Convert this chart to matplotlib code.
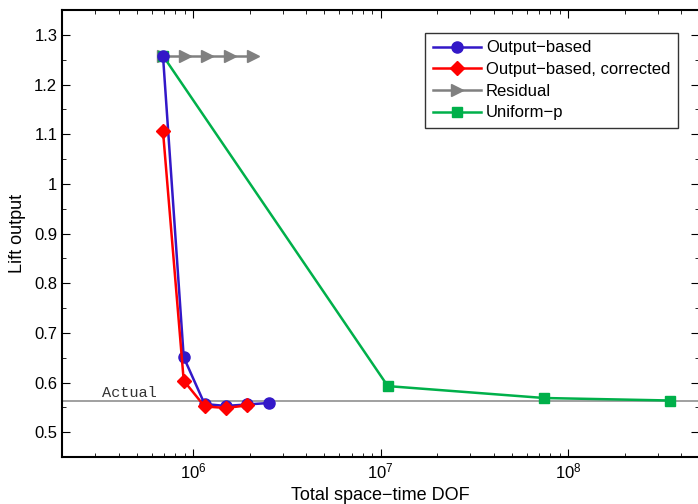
import matplotlib
matplotlib.use("Agg")
import matplotlib.pyplot as plt
from matplotlib.ticker import LogLocator, MultipleLocator, NullFormatter

plt.rcParams['font.family'] = ['Liberation Sans', 'DejaVu Sans']

# data
out_dof = [6.9e5, 8.9e5, 1.15e6, 1.49e6, 1.93e6, 2.54e6]
out_lift = [1.258, 0.651, 0.557, 0.553, 0.556, 0.559]

corr_dof = [6.9e5, 8.9e5, 1.15e6, 1.49e6, 1.93e6]
corr_lift = [1.106, 0.604, 0.552, 0.549, 0.554]

res_dof = [6.9e5, 9.0e5, 1.19e6, 1.57e6, 2.08e6]
res_lift = [1.258, 1.258, 1.258, 1.258, 1.258]

unif_dof = [6.9e5, 1.09e7, 7.45e7, 3.5e8]
unif_lift = [1.258, 0.593, 0.569, 0.564]

actual = 0.562

fig = plt.figure(figsize=(6.98, 5.04), dpi=100)
ax = fig.add_axes([0.089, 0.093, 0.913, 0.887])

ax.axhline(actual, color='#909090', lw=1.2, zorder=1)
ax.text(3.26e5, 0.572, 'Actual', family='Liberation Mono', fontsize=11, color='#333333')

ax.plot(res_dof, res_lift, color='#808080', marker='>', ms=9, lw=1.8, label='Residual', zorder=2)
ax.plot(unif_dof, unif_lift, color='#00b04a', marker='s', ms=7, lw=1.8, label='Uniform\u2212p', zorder=3)
ax.plot(out_dof, out_lift, color='#3318c8', marker='o', ms=8, lw=1.8, label='Output\u2212based', zorder=4)
ax.plot(corr_dof, corr_lift, color='#ff0000', marker='D', ms=7.5, lw=1.8, label='Output\u2212based, corrected', zorder=5)

ax.set_xscale('log')
ax.set_xlim(2e5, 5e8)
ax.set_ylim(0.45, 1.35)
ax.yaxis.set_minor_locator(MultipleLocator(0.05))
ax.set_yticks([0.5, 0.6, 0.7, 0.8, 0.9, 1.0, 1.1, 1.2, 1.3])
ax.set_yticklabels(['0.5', '0.6', '0.7', '0.8', '0.9', '1', '1.1', '1.2', '1.3'])
ax.xaxis.set_minor_locator(LogLocator(base=10, subs=range(2, 10)))
ax.xaxis.set_minor_formatter(NullFormatter())

ax.tick_params(which='both', direction='in', top=True, right=True, labelsize=12)
ax.tick_params(which='major', length=6)
ax.tick_params(which='minor', length=3)
for s in ax.spines.values():
    s.set_linewidth(1.5)

ax.set_xlabel('Total space\u2212time DOF', fontsize=13, labelpad=4)
ax.set_ylabel('Lift output', fontsize=13, labelpad=6)

handles, labels = ax.get_legend_handles_labels()
order = [2, 3, 0, 1]
leg = ax.legend([handles[i] for i in order], [labels[i] for i in order],
                loc='upper right', bbox_to_anchor=(0.966, 0.949), fontsize=12,
                fancybox=False, edgecolor='black', handlelength=2.9,
                borderpad=0.45, labelspacing=0.4, handletextpad=0.3,
                borderaxespad=0)
leg.get_frame().set_linewidth(1.0)

fig.savefig('out.png', dpi=100)
